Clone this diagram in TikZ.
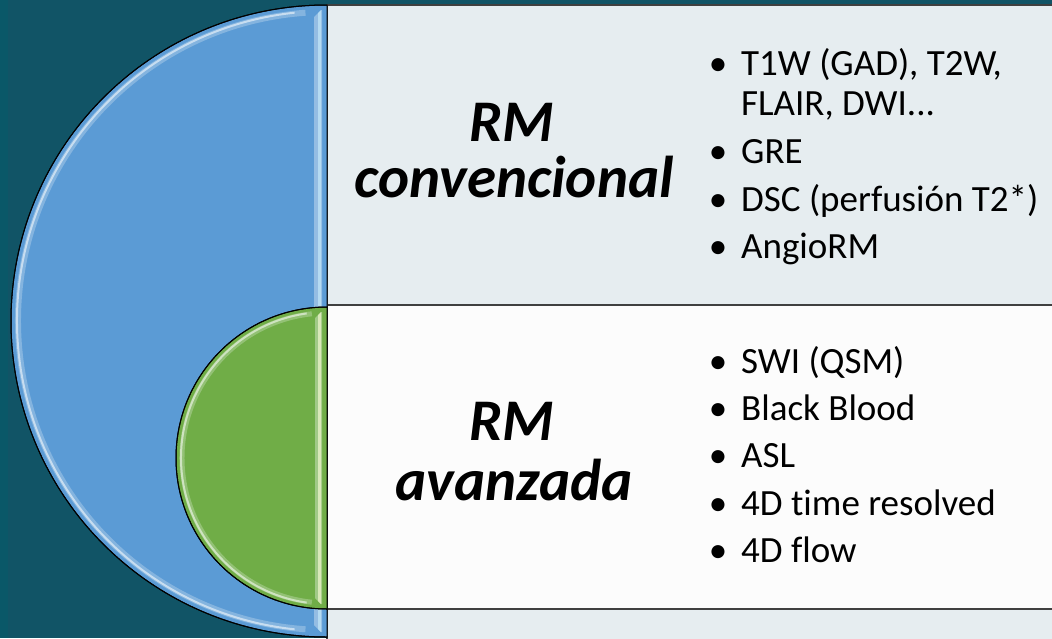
\documentclass[tikz,border=0pt]{standalone}
\usepackage{fontspec}
\setmainfont{Carlito}[Ligatures={NoCommon}]
\definecolor{bgteal}{RGB}{17,84,102}
\definecolor{edgeteal}{RGB}{10,88,104}
\definecolor{discblue}{RGB}{91,155,213}
\definecolor{discgreen}{RGB}{112,173,71}
\definecolor{panelgray}{RGB}{230,237,240}
\definecolor{panelwhite}{RGB}{252,252,252}
\definecolor{rule}{RGB}{64,64,64}
\begin{document}
\begin{tikzpicture}[x=1pt,y=-1pt,
  disc/.style={draw=black,line width=1pt},
  panel/.style={draw=rule,line width=1.2pt},
  headline/.style={font=\fontsize{59}{60}\selectfont\bfseries\itshape,anchor=base,inner sep=0pt},
  item/.style={font=\fontsize{37}{40}\selectfont,anchor=base west,inner sep=0pt},
  dot/.style={font=\fontsize{37}{40}\selectfont,anchor=base,inner sep=0pt}]

% page and background
\useasboundingbox (0,0) rectangle (1052,638);
\fill[bgteal] (0,0) rectangle (1052,638);
\fill[edgeteal] (0,0) rectangle (8,638);

% panels on the right
\filldraw[panel,fill=panelgray] (327,5) rectangle (1053,305);
\filldraw[panel,fill=panelwhite] (327,305) rectangle (1053,609);
\filldraw[panel,fill=panelgray] (327,609) rectangle (1053,640);

% large blue half-disc with glossy rim
\filldraw[disc,fill=discblue] (327,5) arc (270:90:316) -- cycle;
\draw[white,opacity=0.25,line width=6pt] ([shift={(327,321)}]266:309) arc (266:94:309);
\draw[white,opacity=0.55,line width=2pt] ([shift={(327,321)}]264:310) arc (264:96:310);
\fill[white,opacity=0.35] (314,17) -- (321,10) -- (322,10) -- (322,632) -- (321,632) -- (314,625) -- cycle;
\fill[white!80!cyan,opacity=0.6] (318,13) -- (321,10) -- (321,632) -- (318,629) -- cycle;

% small green half-disc with glossy rim
\filldraw[disc,fill=discgreen] (327,307) arc (270:90:151) -- cycle;
\draw[white,opacity=0.25,line width=5pt] ([shift={(327,458)}]264:145) arc (264:96:145);
\draw[white,opacity=0.55,line width=2pt] ([shift={(327,458)}]262:146) arc (262:98:146);
\fill[white,opacity=0.35] (315,318) -- (321,312) -- (322,312) -- (322,604) -- (321,604) -- (315,598) -- cycle;
\fill[white!85!yellow,opacity=0.6] (318,315) -- (321,312) -- (321,604) -- (318,601) -- cycle;

% outlines on top of the highlights
\draw[disc] (327,5) arc (270:90:316);
\draw[disc] (327,307) arc (270:90:151);

% headings
\node[headline] (convA) at (512,141) {RM};
\node[headline] (convB) at (514,197) {convencional};
\node[headline] (avA) at (512,440) {RM};
\node[headline] (avB) at (514,500) {avanzada};

% first list
\node[dot] (d1) at (718,75) {•};
\node[item] (t1) at (741,75) {T1W (GAD), T2W,};
\node[item] (t1b) at (741,115) {FLAIR, DWI...};
\node[dot] (d2) at (718,163) {•};
\node[item] (t2) at (741,163) {GRE};
\node[dot] (d3) at (718,211) {•};
\node[item] (t3) at (741,211) {DSC (perfusión T2*)};
\node[dot] (d4) at (718,258) {•};
\node[item] (t4) at (741,258) {AngioRM};

% second list
\node[dot] (e1) at (718,373) {•};
\node[item] (s1) at (741,373) {SWI (QSM)};
\node[dot] (e2) at (718,420) {•};
\node[item] (s2) at (741,420) {Black Blood};
\node[dot] (e3) at (718,467) {•};
\node[item] (s3) at (741,467) {ASL};
\node[dot] (e4) at (718,515) {•};
\node[item] (s4) at (741,515) {4D time resolved};
\node[dot] (e5) at (718,562) {•};
\node[item] (s5) at (741,562) {4D flow};
\end{tikzpicture}
\end{document}
